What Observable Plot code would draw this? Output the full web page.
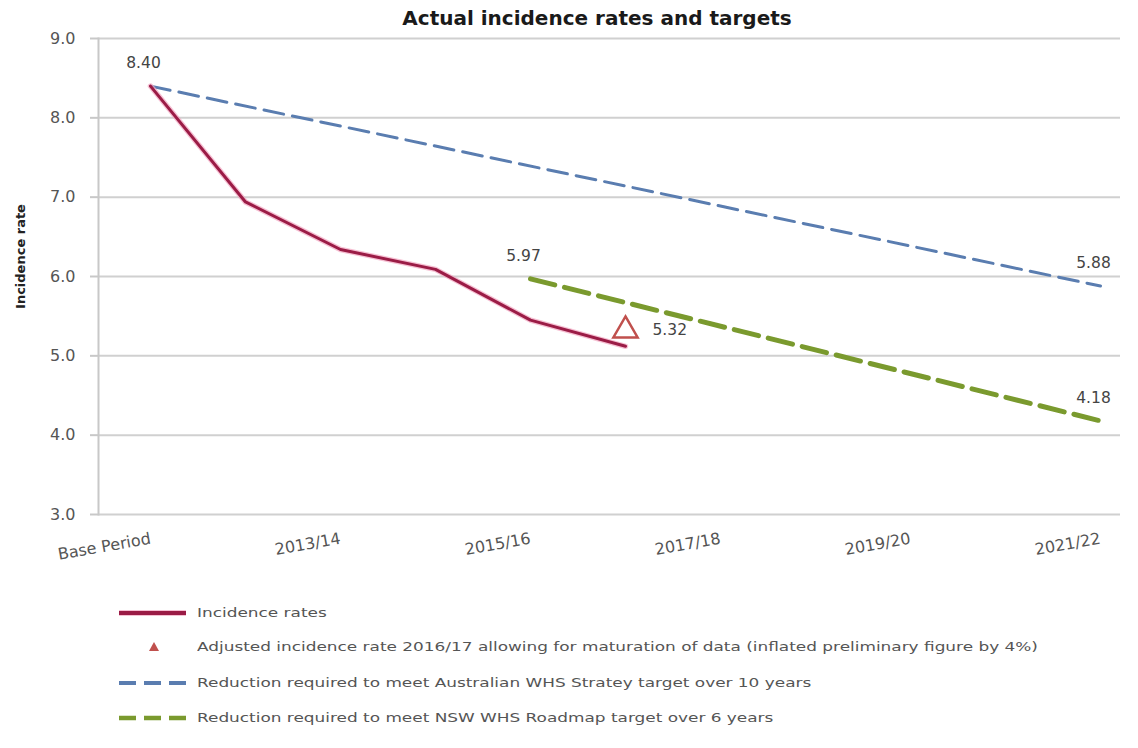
<!DOCTYPE html>
<html>
<head>
<meta charset="utf-8">
<script src="https://cdn.jsdelivr.net/npm/d3@7"></script>
<script src="https://cdn.jsdelivr.net/npm/@observablehq/plot@0.6"></script>
<style>
  body { margin: 0; background: #fff; font-family: "DejaVu Sans", sans-serif; width: 1138px; height: 748px; position: relative; overflow: hidden; }
  #title { position: absolute; left: 0; width: 1194px; top: 6px; text-align: center; font-weight: bold; font-size: 20px; color: #1a1a1a; }
  #chart { position: absolute; left: 0; top: 30px; }
  .leg { position: absolute; left: 0; height: 20px; width: 1138px; }
  .leg svg { position: absolute; left: 110px; top: 0; }
  .leg span { position: absolute; display: inline-block; left: 197px; top: 2px; font-size: 13px; color: #555; white-space: nowrap; transform: scaleX(1.3); transform-origin: left center; }
</style>
</head>
<body>
<div id="title"></div>
<div id="chart"></div>
<div id="legend"></div>
<script>
const title = "Actual incidence rates and targets";
const yLabel = "Incidence rate";
const categories = ["Base Period","2012/13","2013/14","2014/15","2015/16","2016/17","2017/18","2018/19","2019/20","2020/21","2021/22"];
const xTickLabels = ["Base Period","2013/14","2015/16","2017/18","2019/20","2021/22"];
const yTicks = [3, 4, 5, 6, 7, 8, 9];

const incidenceCats = ["Base Period","2012/13","2013/14","2014/15","2015/16","2016/17"];
const incidenceRates = [8.40, 6.94, 6.34, 6.09, 5.45, 5.12];

const adjustedCats = ["2016/17"];
const adjustedRates = [5.32];

const ausCats = ["Base Period","2021/22"];
const ausValues = [8.40, 5.88];

const nswCats = ["2015/16","2021/22"];
const nswValues = [5.97, 4.18];

const topLabelCats = ["Base Period","2015/16","2021/22","2021/22"];
const topLabelValues = [8.40, 5.97, 5.88, 4.18];

const legendItems = [
  "Incidence rates",
  "Adjusted incidence rate 2016/17 allowing for maturation of data (inflated preliminary figure by 4%)",
  "Reduction required to meet Australian WHS Stratey target over 10 years",
  "Reduction required to meet NSW WHS Roadmap target over 6 years"
];

const RED = "#9b1c46", BLUE = "#5a7db0", GREEN = "#7a9a2e", TRI = "#c0504d";

const rows = (cats, vals) => cats.map((c, i) => ({x: c, y: vals[i]}));
const incidence = rows(incidenceCats, incidenceRates);
const adjusted = rows(adjustedCats, adjustedRates);
const aus = rows(ausCats, ausValues);
const nsw = rows(nswCats, nswValues);
const topLabels = rows(topLabelCats, topLabelValues);

document.getElementById("title").textContent = title;

const chart = Plot.plot({
  width: 1138,
  height: 540,
  marginLeft: 98,
  marginRight: 18,
  marginTop: 8,
  marginBottom: 56,
  style: {fontFamily: "DejaVu Sans, sans-serif", background: "transparent"},
  x: {type: "point", domain: categories, range: [145, 1104], padding: 0},
  y: {domain: [3, 9]},
  marks: [
    Plot.gridY(yTicks, {stroke: "#d0d0d0", strokeOpacity: 1, strokeWidth: 2}),
    Plot.frame({anchor: "left", stroke: "#c8c8c8", strokeWidth: 2}),
    Plot.axisY(yTicks, {tickFormat: d3.format(".1f"), tickSize: 8, tickPadding: 15, stroke: "#c8c8c8", strokeWidth: 2, fontSize: 16, fill: "#555", label: null}),
    Plot.axisX(xTickLabels, {tickSize: 0, tickRotate: -10, textAnchor: "end", tickPadding: 24, fontSize: 16, fill: "#555", label: null}),
    Plot.text([yLabel], {frameAnchor: "left", textAnchor: "middle", dx: -78, dy: -20, rotate: -90, fontSize: 13, fontWeight: "bold", fill: "#222"}),
    Plot.line(aus, {x: "x", y: "y", stroke: BLUE, strokeWidth: 3, strokeDasharray: "20,9"}),
    Plot.line(nsw, {x: "x", y: "y", stroke: GREEN, strokeWidth: 5, strokeDasharray: "25,10"}),
    Plot.line(incidence, {x: "x", y: "y", stroke: "#f2a5c0", strokeWidth: 5.5, strokeOpacity: 0.7}),
    Plot.line(incidence, {x: "x", y: "y", stroke: RED, strokeWidth: 3}),
    Plot.dot(adjusted, {x: "x", y: "y", symbol: "triangle", r: 9, stroke: TRI, strokeWidth: 2.5, fill: "#fff"}),
    Plot.text(adjusted, {x: "x", y: "y", text: d => d.y.toFixed(2), dx: 27, textAnchor: "start", fontSize: 15.5, fill: "#444"}),
    Plot.text(topLabels, {x: "x", y: "y", text: d => d.y.toFixed(2), dx: -7, dy: -23, fontSize: 15.5, fill: "#444"})
  ]
});
document.getElementById("chart").appendChild(chart);

const legendTops = [603, 637, 673, 708];
const legend = document.getElementById("legend");
legendItems.forEach((label, i) => {
  const row = document.createElement("div");
  row.className = "leg";
  row.style.top = legendTops[i] + "px";
  let sw = "";
  if (i === 0) sw = `<line x1="9" y1="10" x2="76" y2="10" stroke="#f2a5c0" stroke-width="6" stroke-opacity="0.7"/><line x1="9" y1="10" x2="76" y2="10" stroke="${RED}" stroke-width="4"/>`;
  if (i === 1) sw = `<path d="M44,5 L49,14 L39,14 Z" fill="${TRI}"/>`;
  if (i === 2) sw = `<line x1="9" y1="10" x2="76" y2="10" stroke="${BLUE}" stroke-width="4" stroke-dasharray="17,8"/>`;
  if (i === 3) sw = `<line x1="9" y1="10" x2="76" y2="10" stroke="${GREEN}" stroke-width="4.5" stroke-dasharray="17,8"/>`;
  row.innerHTML = `<svg width="86" height="20">${sw}</svg><span></span>`;
  row.querySelector("span").textContent = label;
  legend.appendChild(row);
});
</script>
</body>
</html>
